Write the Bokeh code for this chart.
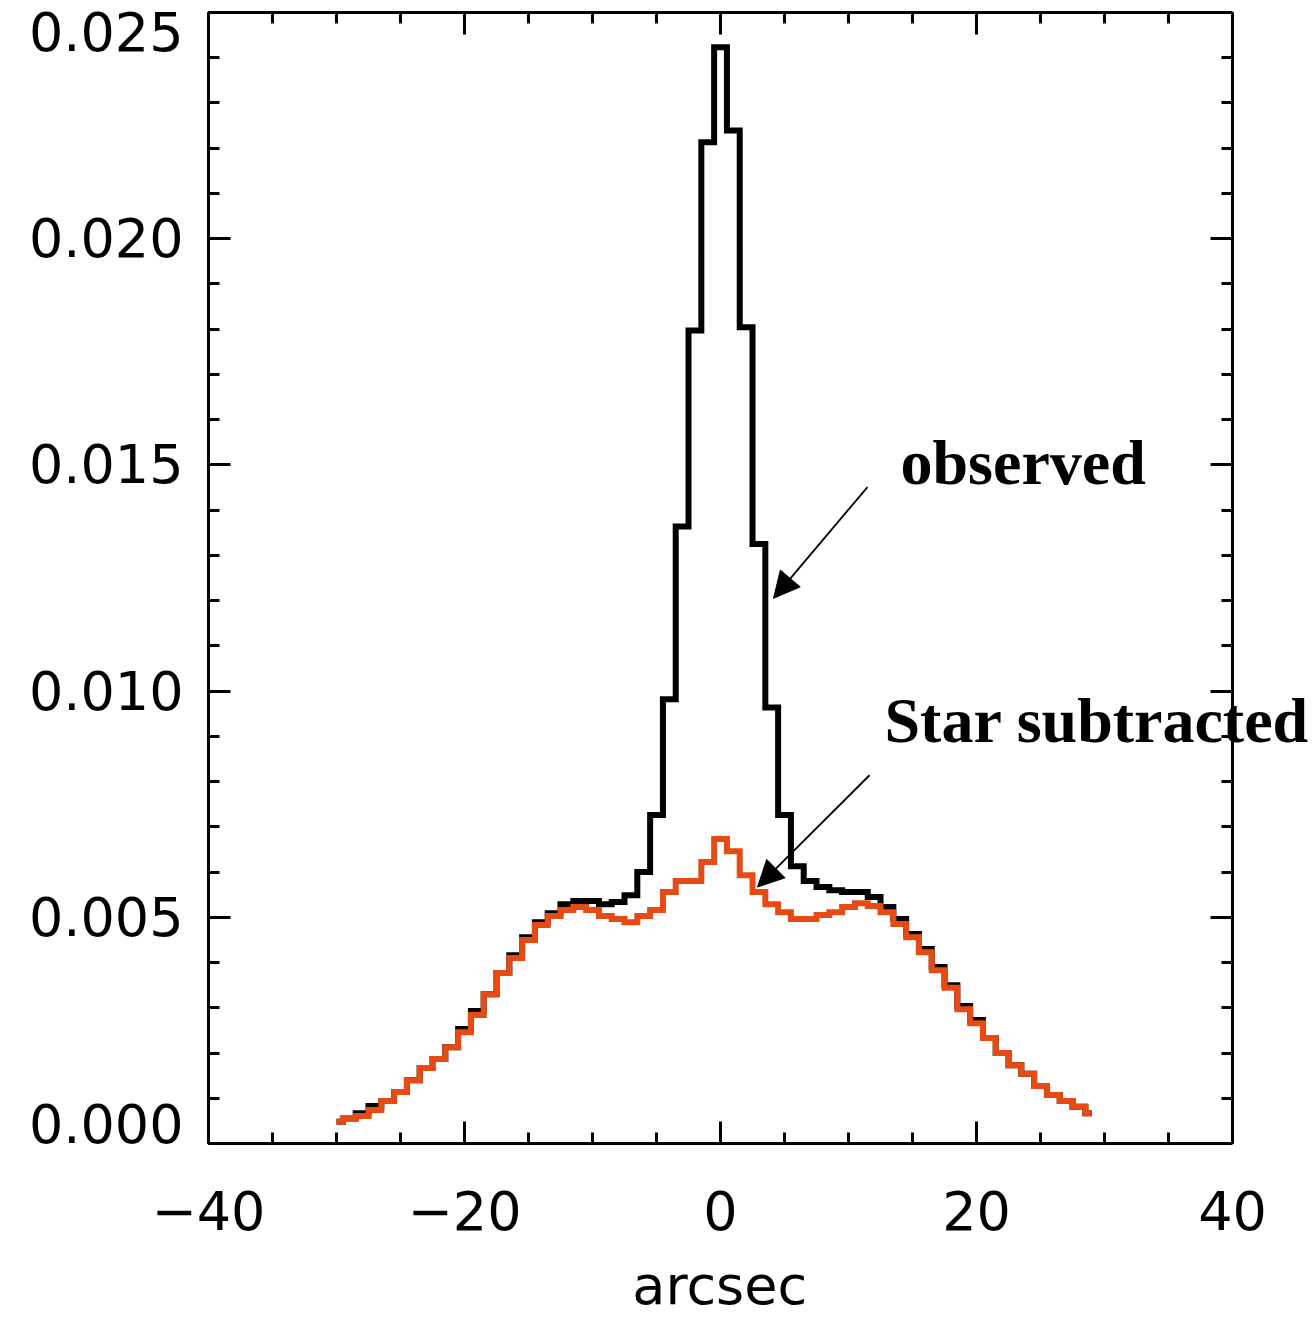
from bokeh.plotting import figure
from bokeh.models import (Range1d, FixedTicker, LinearAxis, Label, Arrow, NormalHead,
                          CustomLabelingPolicy)
from bokeh.embed import file_html
from bokeh.resources import INLINE

# ---------------- data ----------------
arcsec = list(range(-30, 30))

observed = [
    0.00048, 0.00055, 0.00067, 0.00083, 0.00094, 0.00114, 0.00140, 0.00167, 0.00187, 0.00213,
    0.00253, 0.00293, 0.00330, 0.00377, 0.00416, 0.00456, 0.00489, 0.00509, 0.00529, 0.00536,
    0.00536, 0.00529, 0.00534, 0.00549, 0.00600, 0.00726, 0.00982, 0.01364, 0.01797, 0.02213,
    0.02423, 0.02239, 0.01804, 0.01325, 0.00964, 0.00726, 0.00613, 0.00580, 0.00567, 0.00560,
    0.00556, 0.00556, 0.00545, 0.00523, 0.00496, 0.00463, 0.00430, 0.00390, 0.00350, 0.00304,
    0.00273, 0.00233, 0.00200, 0.00173, 0.00154, 0.00127, 0.00107, 0.00094, 0.00081, 0.00067,
]

star_subtracted = [
    0.00048, 0.00055, 0.00061, 0.00074, 0.00094, 0.00114, 0.00140, 0.00167, 0.00187, 0.00213,
    0.00246, 0.00284, 0.00330, 0.00377, 0.00410, 0.00450, 0.00483, 0.00503, 0.00516, 0.00523,
    0.00516, 0.00503, 0.00496, 0.00489, 0.00503, 0.00516, 0.00556, 0.00580, 0.00580, 0.00622,
    0.00673, 0.00646, 0.00593, 0.00556, 0.00529, 0.00511, 0.00496, 0.00496, 0.00505, 0.00511,
    0.00523, 0.00531, 0.00525, 0.00511, 0.00485, 0.00456, 0.00423, 0.00383, 0.00344, 0.00297,
    0.00266, 0.00233, 0.00200, 0.00173, 0.00154, 0.00127, 0.00107, 0.00094, 0.00081, 0.00067,
]

x_major_ticks = [-40, -20, 0, 20, 40]
x_minor_ticks = list(range(-40, 41, 5))
x_tick_labels = ["\u221240", "\u221220", "0", "20", "40"]

y_major_ticks = [0.000, 0.005, 0.010, 0.015, 0.020, 0.025]
y_minor_ticks = [i / 1000 for i in range(0, 26)]
y_tick_labels = ["0.000", "0.005", "0.010", "0.015", "0.020", "0.025"]

x_title = "arcsec"

# ---------------- styles ----------------
ORANGE = "#e64b14"
TICK_FONT = "DejaVu Sans"
FS = "54px"

# the lowest y label sits a little above its tick, as in the original
y_label_text = {t: l for t, l in zip(y_major_ticks, y_tick_labels)}
y_label_text[y_major_ticks[0]] = y_tick_labels[0] + "\n "

# plot area runs a little past x=40 so the right-hand label is not clipped;
# the right axis is pinned at x=40 and the top/bottom axes are bounded to [-40, 40]
p = figure(width=1312, height=1319,
           x_range=Range1d(-40, 46.09), y_range=Range1d(0, 0.025),
           output_backend="svg", toolbar_location=None,
           min_border_left=208, min_border_right=2,
           min_border_top=12, min_border_bottom=176)
p.grid.visible = False
p.background_fill_color = "white"
p.border_fill_color = "white"
p.outline_line_color = None

xt = FixedTicker(ticks=x_major_ticks, minor_ticks=x_minor_ticks)
yt = FixedTicker(ticks=y_major_ticks, minor_ticks=y_minor_ticks)

no_labels = CustomLabelingPolicy(code="""
try { for (const i of Array.from(indices)) { indices.unset(i) } } catch (e) {}
return indices
""")


def style_axis(ax, ticker):
    ax.ticker = ticker
    ax.axis_line_color = "black"
    ax.axis_line_width = 3
    ax.major_tick_line_color = "black"
    ax.major_tick_line_width = 3
    ax.minor_tick_line_color = "black"
    ax.minor_tick_line_width = 3
    ax.major_tick_in = 22
    ax.major_tick_out = 0
    ax.minor_tick_in = 11
    ax.minor_tick_out = 0


def hide_labels(ax):
    ax.major_label_text_font_size = "0px"
    ax.major_label_standoff = 0
    ax.major_label_policy = no_labels


# bottom axis
xa = p.xaxis[0]
style_axis(xa, xt)
xa.bounds = (-40, 40)
xa.major_label_overrides = {t: l for t, l in zip(x_major_ticks, x_tick_labels)}
xa.major_label_text_font = TICK_FONT
xa.major_label_text_font_size = FS
xa.major_label_text_color = "black"
xa.major_label_standoff = 47
# figure spaces re-centre the title over [-40, 40] rather than the wider frame
xa.axis_label = x_title + "\u2007\u2007\u2009"
xa.axis_label_text_font = TICK_FONT
xa.axis_label_text_font_size = FS
xa.axis_label_text_font_style = "normal"
xa.axis_label_text_color = "black"
xa.axis_label_standoff = 21

# left axis
ya = p.yaxis[0]
style_axis(ya, yt)
ya.major_label_overrides = y_label_text
ya.major_label_text_font = TICK_FONT
ya.major_label_text_font_size = FS
ya.major_label_text_color = "black"
ya.major_label_text_line_height = 0.6
ya.major_label_standoff = 25

# right axis (ticks only) pinned at x = 40
ra = LinearAxis(fixed_location=40)
style_axis(ra, yt)
hide_labels(ra)
p.add_layout(ra, "right")

# top axis (ticks only)
ta = LinearAxis()
style_axis(ta, xt)
ta.bounds = (-40, 40)
hide_labels(ta)
p.add_layout(ta, "above")

# histograms
p.step(arcsec, observed, mode="center", line_color="black", line_width=6,
       line_join="miter")
p.step(arcsec, star_subtracted, mode="center", line_color=ORANGE, line_width=6,
       line_join="miter")

# annotations
p.add_layout(Label(x=14.06, y=0.01506, text="observed",
                   text_font="Liberation Serif", text_font_style="bold",
                   text_font_size="64px", text_baseline="alphabetic",
                   text_align="left", text_color="black"))
p.add_layout(Label(x=12.81, y=0.00934, text="Star subtracted",
                   text_font="Liberation Serif", text_font_style="bold",
                   text_font_size="64px", text_baseline="alphabetic",
                   text_align="left", text_color="black"))

p.add_layout(Arrow(end=NormalHead(size=26, fill_color="black", line_color="black",
                                  line_width=1),
                   x_start=11.48, y_start=0.01451, x_end=4.14, y_end=0.01205,
                   line_color="black", line_width=1.8))
p.add_layout(Arrow(end=NormalHead(size=26, fill_color="black", line_color="black",
                                  line_width=1),
                   x_start=11.64, y_start=0.00814, x_end=2.89, y_end=0.00567,
                   line_color="black", line_width=1.8))

open("out.html", "w").write(file_html(p, INLINE))
